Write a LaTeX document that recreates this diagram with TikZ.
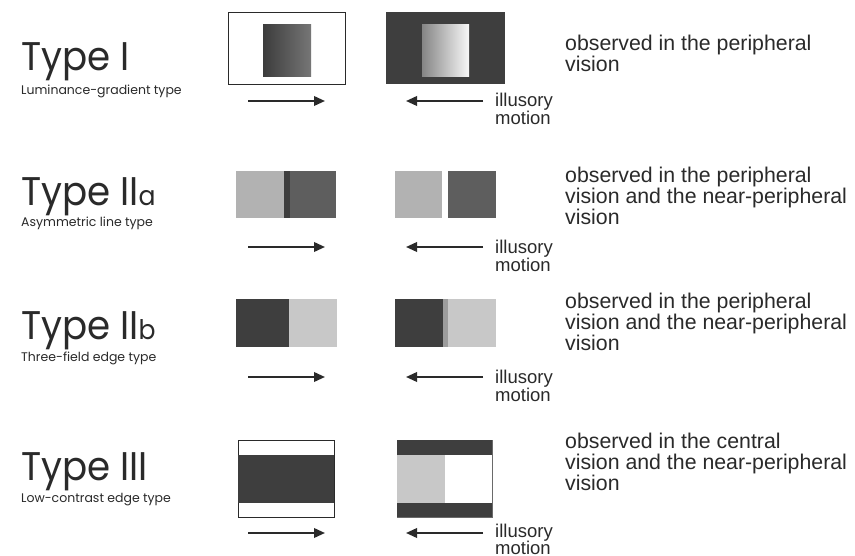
\documentclass[tikz,border=0pt]{standalone}
\usepackage{fontspec}
\setmainfont{Liberation Sans}
\newfontfamily\titlefont{Poppins}[FakeStretch=0.93]
\newfontfamily\subfont{Poppins}
\newcommand\smallsubfont{\titlefont\fontsize{27}{27}\selectfont}
\usetikzlibrary{arrows.meta}
\definecolor{ink}{HTML}{2A2A2A}
\definecolor{dk}{HTML}{3E3E3E}
\definecolor{md}{HTML}{5E5E5E}
\definecolor{lt}{HTML}{B2B2B2}
\definecolor{lt2}{HTML}{C8C8C8}
\definecolor{strip}{HTML}{9C9C9C}
\definecolor{gA}{HTML}{3C3C3C}
\definecolor{gB}{HTML}{767676}
\definecolor{gC}{HTML}{858585}
\definecolor{gD}{HTML}{F8F8F8}
\begin{document}
\begin{tikzpicture}[x=1pt,y=-1pt,
  title/.style={anchor=base west, inner sep=0pt, font=\titlefont\fontsize{40}{40}\selectfont, text=ink},
  sub/.style={anchor=base west, inner sep=0pt, font=\subfont\fontsize{12.5}{13}\selectfont, text=ink},
  desc/.style={anchor=base west, inner sep=0pt, font=\fontsize{21.3}{22}\selectfont, text=ink},
  illu/.style={anchor=base west, inner sep=0pt, font=\fontsize{18.5}{19}\selectfont, text=ink},
  motionarrow/.style={draw=ink, line width=2pt, -{Triangle[length=11pt,width=9.5pt]}},
  frameline/.style={draw=ink, line width=0.8pt}
]
\useasboundingbox (0,0) rectangle (855,556);
\fill[white] (0,0) rectangle (855,556);

% ---------- Row 1 : Type I ----------
\node[title] (t1) at (21,71) {Type I};
\node[sub] (s1) at (21,95) {Luminance-gradient type};
\draw[frameline, fill=white] (228,12) rectangle (345,84);
\shade[left color=gA, right color=gB] (263,25) rectangle (311,77);
\fill[dk] (386,12) rectangle (505,84);
\shade[left color=gC, right color=gD] (422,25) rectangle (469,77);
\coordinate (r1a) at (248,101); \coordinate (r1b) at (325,101);
\coordinate (l1a) at (483,101); \coordinate (l1b) at (406,101);
\draw[motionarrow] (r1a) -- (r1b);
\draw[motionarrow] (l1a) -- (l1b);
\node[illu] (i1) at (495,107) {illusory};
\node[illu] (m1) at (495,124.5) {motion};
\node[desc] (d1a) at (565,51) {observed in the peripheral};
\node[desc] (d1b) at (565,72) {vision};

% ---------- Row 2 : Type IIa ----------
\node[title] (t2) at (21,206) {Type II{\smallsubfont a}};
\node[sub] (s2) at (21,227) {Asymmetric line type};
\fill[lt] (236,171) rectangle (284,218);
\fill[dk] (284,171) rectangle (290,218);
\fill[md] (290,171) rectangle (336,218);
\fill[lt] (395,171) rectangle (442,218);
\fill[md] (448,171) rectangle (496,218);
\coordinate (r2a) at (248,247); \coordinate (r2b) at (325,247);
\coordinate (l2a) at (483,247); \coordinate (l2b) at (406,247);
\draw[motionarrow] (r2a) -- (r2b);
\draw[motionarrow] (l2a) -- (l2b);
\node[illu] (i2) at (495,253.5) {illusory};
\node[illu] (m2) at (495,271.5) {motion};
\node[desc] (d2a) at (565,183) {observed in the peripheral};
\node[desc] (d2b) at (565,204) {vision and the near-peripheral};
\node[desc] (d2c) at (565,225) {vision};

% ---------- Row 3 : Type IIb ----------
\node[title] (t3) at (21,340) {Type II{\smallsubfont b}};
\node[sub] (s3) at (21,361.5) {Three-field edge type};
\fill[dk] (236,299) rectangle (289,347);
\fill[lt2] (289,299) rectangle (337,347);
\fill[dk] (395,299) rectangle (443,347);
\fill[strip] (443,299) rectangle (448,347);
\fill[lt2] (448,299) rectangle (496,347);
\coordinate (r3a) at (248,377); \coordinate (r3b) at (325,377);
\coordinate (l3a) at (483,377); \coordinate (l3b) at (406,377);
\draw[motionarrow] (r3a) -- (r3b);
\draw[motionarrow] (l3a) -- (l3b);
\node[illu] (i3) at (495,383.5) {illusory};
\node[illu] (m3) at (495,401) {motion};
\node[desc] (d3a) at (565,309) {observed in the peripheral};
\node[desc] (d3b) at (565,330) {vision and the near-peripheral};
\node[desc] (d3c) at (565,351) {vision};

% ---------- Row 4 : Type III ----------
\node[title] (t4) at (21,480) {Type III};
\node[sub] (s4) at (21,502) {Low-contrast edge type};
\draw[frameline, fill=white] (238,440) rectangle (334,517);
\fill[dk] (238,455) rectangle (334,503);
\draw[draw=ink!70, line width=0.6pt, fill=white] (397,440) rectangle (492,517);
\fill[dk] (397,440) rectangle (492,455);
\fill[dk] (397,503) rectangle (492,517);
\fill[lt2] (397,455) rectangle (445,503);
\coordinate (r4a) at (248,533); \coordinate (r4b) at (325,533);
\coordinate (l4a) at (483,533); \coordinate (l4b) at (406,533);
\draw[motionarrow] (r4a) -- (r4b);
\draw[motionarrow] (l4a) -- (l4b);
\node[illu] (i4) at (495,537) {illusory};
\node[illu] (m4) at (495,554.5) {motion};
\node[desc] (d4a) at (565,448) {observed in the central};
\node[desc] (d4b) at (565,469) {vision and the near-peripheral};
\node[desc] (d4c) at (565,490) {vision};
\end{tikzpicture}
\end{document}
